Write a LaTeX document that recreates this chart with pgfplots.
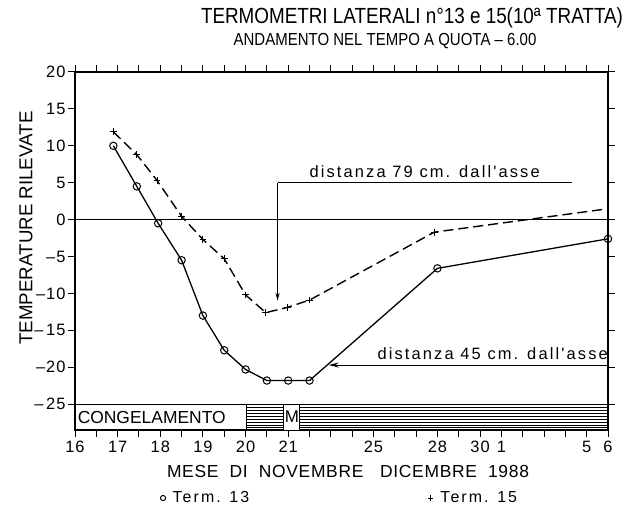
\documentclass[border=0pt]{standalone}
\usepackage{fontspec}
\setmainfont{Liberation Sans}
\newfontfamily\lcfont[LetterSpace=13]{Liberation Sans}
\newfontfamily\ttlfont[FakeStretch=0.86]{Liberation Sans}
\newfontfamily\numfont[LetterSpace=6]{Liberation Sans}
\newfontfamily\capfont[LetterSpace=4]{Liberation Sans}
\usepackage{pgfplots}
\usetikzlibrary{arrows.meta}
\pgfplotsset{compat=1.18}
\begin{document}
\begin{tikzpicture}
\begin{axis}[
  name=ax,
  at={(75bp,85bp)}, anchor=south west,
  scale only axis, width=533bp, height=358bp,
  xmin=0, xmax=25, ymin=-28.5, ymax=20,
  xtick={0,...,25},
  xticklabels={16,,17,,18,,19,,20,,21,,,,25,,,28,,30,1,,,,5,6},
  ytick={-25,-20,-15,-10,-5,0,5,10,15,20},
  yticklabels={–\,25,–20,–\,15,–10,–5,0,5,10,15,20},
  tick align=outside, major tick length=7bp,
  tick style={black, line width=1bp},
  axis line style={line width=1.2bp},
  ticklabel style={font=\numfont\fontsize{16.5}{16.5}\selectfont},
  xticklabel style={yshift=-1bp},
  yticklabel style={xshift=1bp},
  clip=false,
  legend columns=2,
  legend image code/.code={\draw[#1] plot coordinates {(0bp,0bp)};},
  legend style={draw=none, fill=none, at={(0.16,-0.19)}, anchor=west,
    font=\lcfont\fontsize{16}{16}\selectfont, inner sep=0pt,
    /tikz/every even column/.append style={column sep=172bp},
    nodes={inner sep=7bp}},
]
% band
\draw[line width=1bp] (axis cs:0,-25) -- (axis cs:25,-25);
\pgfplotsinvokeforeach{-25.4,-25.8,-26.2,-26.6,-27.0,-27.4,-27.8,-28.2}{
  \draw[line width=0.6bp] (axis cs:8.05,#1) -- (axis cs:9.8,#1);
  \draw[line width=0.6bp] (axis cs:10.55,#1) -- (axis cs:25,#1);
}
\draw[line width=1bp] (axis cs:8.05,-25) -- (axis cs:8.05,-28.5);
\draw[line width=1bp, fill=white] (axis cs:9.8,-25) rectangle (axis cs:10.55,-28.5);
\node[font=\fontsize{17}{17}\selectfont] at (axis cs:10.175,-26.75) {M};
\node[font=\fontsize{17.5}{17.5}\selectfont, anchor=west, inner sep=0pt] at (axis cs:0.12,-26.75) {CONGELAMENTO};
% zero line
\draw[line width=1bp] (axis cs:0,0) -- (axis cs:25,0);
% Term 13
\addplot[black, line width=1.3bp, mark=o, mark size=3.7bp, mark options={fill=white, solid, line width=1bp}, forget plot]
 coordinates {(1.8,10.0)(2.9,4.5)(3.9,-0.5)(5,-5.5)(6,-13.0)(7,-17.7)(8,-20.3)(9,-21.8)(10,-21.8)(11,-21.8)(17,-6.6)(25,-2.6)};
% Term 15
\addplot[black, line width=1.4bp, dash pattern=on 10bp off 5bp, mark=+, mark size=3.4bp, mark indices={1,...,11}, mark options={solid, line width=1.1bp}, forget plot]
 coordinates {(1.8,11.9)(2.9,8.8)(3.85,5.3)(5,0.45)(6,-2.7)(7,-5.3)(8,-10.2)(8.95,-12.6)(9.95,-11.9)(11,-10.9)(16.85,-1.7)(24.8,1.4)};
\addlegendimage{only marks, mark=o, mark size=2.6bp, line width=1bp}
\addlegendentry{Term. 13}
\addlegendimage{only marks, mark=+, mark size=2.6bp, line width=1bp}
\addlegendentry{Term. 15}
% annotations
\draw[line width=1bp] (axis cs:23.3,5.0) -- (axis cs:9.5,5.0);
\draw[line width=1bp, -{Stealth[length=8bp,width=4bp]}] (axis cs:9.5,5.0) -- (axis cs:9.5,-11.0);
\node[font=\lcfont\fontsize{16.5}{16.5}\selectfont, anchor=base, inner sep=0pt] at (axis cs:16.4,5.7) {distanza 79 cm. dall'asse};
\draw[line width=1bp, {Stealth[length=10bp,width=5bp]}-] (axis cs:11.9,-19.7) -- (axis cs:25,-19.7);
\node[font=\lcfont\fontsize{16.5}{16.5}\selectfont, anchor=base east, inner sep=0pt] at (axis cs:25,-19.0) {distanza 45 cm. dall'asse};
\end{axis}
\node[font=\ttlfont\fontsize{22}{22}\selectfont, inner sep=0pt] at (412bp,497bp) {TERMOMETRI LATERALI n°13 e 15(10ª TRATTA)};
\node[font=\ttlfont\fontsize{17.5}{17.5}\selectfont, inner sep=0pt] at (385bp,474bp) {ANDAMENTO NEL TEMPO A QUOTA – 6.00};
\node[font=\capfont\fontsize{17.5}{17.5}\selectfont, inner sep=0pt] at (348bp,44bp) {MESE \ DI \ NOVEMBRE \ \ DICEMBRE \ 1988};
\node[font=\fontsize{18.8}{18.8}\selectfont, rotate=90, inner sep=0pt] at (26bp,287bp) {TEMPERATURE RILEVATE};
\pgfresetboundingbox
\useasboundingbox (0,0) rectangle (629bp,515bp);
\end{tikzpicture}
\end{document}
